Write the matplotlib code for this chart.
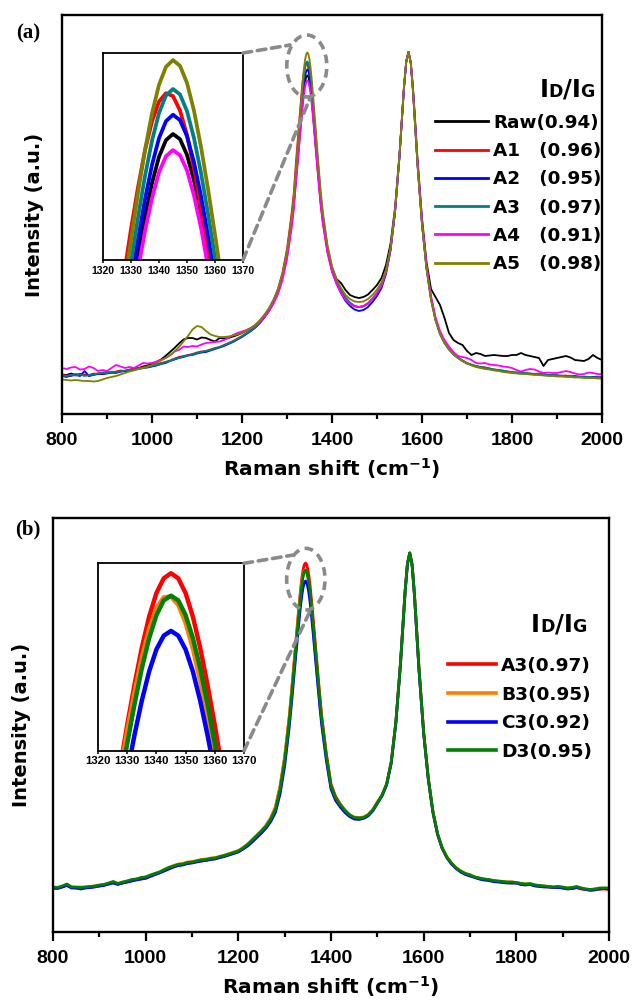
import numpy as np
import matplotlib
matplotlib.use("Agg")
import matplotlib.pyplot as plt
from matplotlib.patches import Ellipse, ConnectionPatch
from matplotlib.offsetbox import TextArea, HPacker, AnchoredOffsetbox
from matplotlib.ticker import MultipleLocator

# ---------------- data ----------------
RAMAN_SHIFT = (list(range(800, 1320, 10)) + [1315]
               + [1320 + 2.5 * i for i in range(21)] + [1375]
               + list(range(1380, 1560, 10)) + list(range(1555, 1590, 5))
               + list(range(1590, 2010, 10)))

# panel (a)
RAW = [39.5, 39, 40.5, 39, 40, 39, 38.5, 39.5, 40.5, 40,
       40.5, 41.5, 42, 42.5, 43, 44, 45.5, 46, 47.5, 48.5,
       50, 52, 54.5, 58, 62, 66, 70.5, 74.5, 76, 76,
       74.5, 76.5, 76, 74, 72.5, 76, 75.5, 76, 77.5, 79,
       81, 83.5, 86, 89, 93, 98.5, 104.5, 112.5, 123, 138,
       160, 190.5,
       210,
       234.2, 246.8, 260.2, 273.8, 287.5, 300.7, 312.9, 323.3, 331.5, 336.7, 338.6,
       337, 332.1, 324.1, 313.9, 301.9, 288.9, 275.4, 262, 248.8, 236.4,
       212,
       193, 165, 146, 135, 131, 124, 119, 117, 116, 117, 119.5, 124, 129, 136, 149, 170, 206, 260,
       293, 327, 352.5, 362, 352, 326, 292,
       255, 196, 152, 125, 117, 109, 96, 81, 74, 71,
       69, 63, 59, 61, 60, 58, 58.5, 59, 58.5, 58,
       58, 59, 59, 61, 59, 58, 57, 56, 48, 54,
       55, 56, 57, 58, 56.5, 54, 53.5, 53, 55, 59,
       56, 54]

A1 = [39, 38.5, 38, 40, 39, 39.5, 39, 40.5, 40, 41.5,
      42, 41.5, 42.5, 43.5, 43, 44.5, 45, 46, 46.5, 47.5,
      48, 49.5, 51, 52, 53.5, 55.5, 57, 58, 59, 60,
      61.5, 62.5, 63, 64.5, 66, 67, 69, 71, 73, 75.5,
      78, 81, 84, 88, 92.5, 98.5, 105, 113.5, 125, 141.5,
      165, 200,
      221,
      252.4, 266.2, 280.5, 294.9, 309, 322, 333.5, 342.5, 348.7, 351.3, 350.4,
      345.9, 338.3, 327.9, 315.6, 302, 287.9, 273.7, 259.9, 246.6, 234.2,
      209,
      190, 162, 143, 131, 122, 115, 111, 108, 107, 108, 111, 115.5, 121, 129, 142, 165, 202, 258,
      292, 327, 352.5, 362, 351, 323, 287,
      250, 190, 146, 116, 95, 81, 72, 65, 60, 56.5,
      53.5, 51, 49, 48, 47, 46.5, 45.5, 44.5, 44, 43,
      42.5, 41.5, 41.5, 41, 40.5, 40.5, 40, 39.5, 39.5, 39,
      39, 38.5, 38, 38.5, 37.5, 37.5, 37, 37.5, 36.5, 36.5,
      37, 36.5]

A2 = [38, 37, 38.5, 39, 38, 43, 38, 39, 40, 40.5,
      41, 41.5, 41, 42.5, 43, 43.5, 44.5, 45, 46, 46.5,
      47.5, 48.5, 50, 51, 53, 54.5, 56, 57, 58.5, 59,
      60.5, 61.5, 62, 63.5, 65, 66.5, 68, 70, 72, 74.5,
      77, 80, 83, 86.5, 91, 96.5, 103, 111, 121.5, 136.5,
      158, 189,
      209,
      237.8, 250.7, 264.3, 278.3, 292.3, 305.8, 318.3, 329, 337.3, 342.6, 344.6,
      342.9, 337.9, 329.8, 319.3, 307, 293.7, 279.9, 266.1, 252.7, 240,
      214,
      194, 164, 144, 131, 121, 113, 108, 104.5, 103, 104, 107, 112, 118, 126, 140, 163, 201, 257,
      291, 326, 352, 362, 351, 323, 287,
      250, 190, 146, 115, 94, 80, 71, 64.5, 59.5, 56,
      53, 50.5, 49, 47.5, 46.5, 46, 45, 44, 43.5, 43,
      42, 41.5, 41, 41.5, 40.5, 40, 40, 39.5, 40, 39,
      38.5, 38.5, 38, 38, 37.5, 38, 37, 37, 36.5, 37,
      36.5, 36.5]

A3 = [38.5, 38, 39, 38.5, 39.5, 38, 39, 39.5, 40.5, 41,
      41, 42, 42, 42.5, 43.5, 44, 44.5, 45.5, 46, 47,
      48, 49, 50, 52, 53, 55, 56, 57.5, 58.5, 59.5,
      61, 62, 63, 64, 65.5, 67, 68.5, 70.5, 72.5, 75,
      77.5, 80.5, 83.5, 87, 91.5, 97, 103.5, 112, 123, 138.5,
      160.5, 192.5,
      213,
      242.5, 255.8, 269.9, 284.2, 298.7, 312.6, 325.5, 336.5, 345.1, 350.6, 352.6,
      350.9, 345.7, 337.3, 326.5, 313.8, 300.1, 285.8, 271.7, 257.8, 244.7,
      218,
      197.5, 166.5, 146, 133, 124, 116.5, 111.5, 108, 107, 107.5, 110, 115, 121, 128.5, 142, 164.5, 202, 258,
      292, 327, 352.5, 362, 351.5, 324, 288,
      251, 191, 147, 116, 95, 80.5, 71.5, 65, 60, 56.5,
      53.5, 51, 49.5, 48, 47, 46.5, 45.5, 44.5, 44, 43.5,
      42.5, 42, 41.5, 41.5, 41, 40.5, 40, 40.5, 39.5, 39,
      39, 38.5, 38.5, 38, 38, 37.5, 37.5, 37, 37, 36.5,
      36.5, 37]

A4 = [46, 45, 46.5, 47, 44.5, 45, 47.5, 46, 43, 44,
      43, 46, 49, 47.5, 46, 47, 46, 48.5, 51, 50.5,
      51, 52.5, 54, 56, 58.5, 62.5, 64, 67.5, 67, 68,
      67.5, 69.5, 71, 71.5, 72, 72.5, 74, 76, 79, 81,
      82.5, 84, 86, 88.5, 92, 97, 103, 110.5, 120, 134,
      154.5, 184.5,
      203.5,
      231.3, 243.6, 256.7, 270, 283.5, 296.4, 308.4, 318.6, 326.7, 331.7, 333.6,
      332, 327.3, 319.4, 309.4, 297.4, 284.6, 271.3, 258.2, 245.1, 233.1,
      208.5,
      189.5, 161, 142, 130, 121, 114, 110, 107.5, 107, 108, 110.5, 115, 121, 128.5, 142, 165, 203, 258,
      292, 327, 352.5, 362, 351.5, 324, 289,
      253, 193, 149, 118, 97, 83, 74, 67.5, 62, 58,
      57, 56, 54, 51, 50.5, 51, 49.5, 49, 48.5, 47.5,
      47, 46, 44, 42.5, 44, 45, 44.5, 42.5, 41, 41.5,
      41, 41, 42, 43, 42, 40.5, 39.5, 40, 41.5, 41,
      40, 39.5]

A5 = [34.5, 34, 33.5, 34, 33.5, 33, 33, 32.5, 33, 34.5,
      36, 37, 38, 39.5, 41, 42.5, 43.5, 45, 46, 47.5,
      49, 51, 53.5, 56, 59, 62.5, 67, 72.5, 78, 84.5,
      88, 87, 83, 79.5, 78, 77, 77, 77.5, 78.5, 79.5,
      81, 83.5, 86, 89.5, 94, 99.5, 106, 114.5, 125, 140.5,
      163, 196,
      217.5,
      247.8, 261.6, 276.1, 290.9, 305.9, 320.3, 333.6, 345, 353.9, 359.5, 361.6,
      359.8, 354.5, 345.8, 334.6, 321.5, 307.3, 292.5, 277.9, 263.6, 250,
      222.5,
      201, 169, 148, 135, 126, 119, 115, 112.5, 112, 112.5, 115, 119, 124.5, 131.5, 144, 166, 203, 259,
      293, 328, 353, 362, 351, 322.5, 286,
      249, 189, 145, 114, 93.5, 80, 71, 64.5, 59.5, 56,
      53, 50.5, 48.5, 47, 46, 45, 44.5, 43.5, 43, 42,
      41.5, 41, 40.5, 40, 40, 39.5, 39, 39, 38.5, 38,
      38, 37.5, 37.5, 37, 37, 36.5, 36.5, 36, 36, 36,
      35.5, 35.5]

LABELS_A = ["Raw(0.94)", "A1   (0.96)", "A2   (0.95)", "A3   (0.97)", "A4   (0.91)", "A5   (0.98)"]
COLORS_A = ["#000000", "#ff0000", "#0000ff", "#008080", "#ff00ff", "#808000"]

# panel (b)
B_A3 = [43.5, 44, 45, 47, 44.5, 44, 43.5, 44.5, 44.5, 45.5,
        46, 47, 48, 49.5, 48, 49, 50, 51.5, 52.5, 53,
        53.5, 56, 57.5, 59.5, 61.5, 63.5, 65, 66.5, 67.5, 68.5,
        69.5, 70.5, 71, 72, 72.5, 73.5, 74.5, 76, 77.5, 79,
        80.5, 83, 86.5, 91, 96, 101, 106.5, 114, 124.5, 145,
        174.5, 215.5,
        241,
        268, 281.1, 294.6, 308.2, 321.6, 334.2, 345.7, 355.4, 362.8, 367.4, 369,
        367.4, 362.8, 355.4, 345.7, 334.2, 321.6, 308.2, 294.6, 281.1, 268,
        241,
        216, 178.5, 148, 135.5, 128, 122, 117.5, 114.5, 114, 114.5, 117, 121.5, 130, 136.5, 147.5, 169.5, 210, 269.5,
        305.5, 341, 368.5, 379, 367.5, 338.5, 301,
        263, 200, 154, 120.5, 98, 83.5, 74.5, 68.5, 63.5, 60.5,
        58, 56.5, 55, 53.5, 52.5, 52, 51, 50.5, 50, 49.5,
        49, 49, 48, 47.5, 47.5, 46.5, 46, 45.5, 45, 44.5,
        45, 44, 43.5, 43.5, 44.5, 43, 42.5, 41.5, 42, 43,
        43, 42.5]

B_B3 = [44.5, 44.5, 45.5, 47.5, 45, 44.5, 45, 45, 45.5, 46,
        46.5, 47.5, 48.5, 50, 48.5, 49.5, 51, 52, 53, 54,
        55, 56.5, 58.5, 60, 62, 64.5, 66.5, 68, 68.5, 70,
        70.5, 71.5, 72.5, 73, 74, 74.5, 75.5, 77, 78.5, 80,
        81.5, 84.5, 88, 92.5, 97, 101.5, 107, 114.5, 125, 146,
        176, 216,
        241,
        267.3, 280.2, 293.5, 306.7, 319.7, 331.8, 342.7, 351.6, 358.1, 361.5, 361.7,
        359.1, 353.5, 345.4, 335.3, 323.5, 310.7, 297.3, 284, 270.6, 257.6,
        233,
        210, 174, 145, 133.5, 127, 121.5, 117, 115, 114.5, 115, 117.5, 122.5, 129.5, 137, 148, 170, 209.5, 268.5,
        304.5, 340.5, 368, 379, 368, 338.5, 301,
        262.5, 199.5, 153.5, 120.5, 98.5, 84.5, 75.5, 69, 64.5, 61,
        58.5, 57.5, 55, 54, 53, 52.5, 51.5, 51, 50.5, 50,
        50, 49.5, 48.5, 48, 48, 47, 46.5, 46, 45.5, 45,
        45.5, 44.5, 44, 44.5, 45, 44, 43, 42.5, 43, 43.5,
        44, 43.5]

B_C3 = [44, 43.5, 45, 46.5, 44, 44, 43, 44, 44.5, 45,
        46, 46.5, 48, 49, 47.5, 49, 50, 51, 52, 53,
        54, 55.5, 57.5, 59, 61, 63, 65, 66.5, 67, 68.5,
        69, 70, 71, 71.5, 72.5, 73, 74.5, 75.5, 77, 78.5,
        80, 83, 86, 90, 94.5, 99, 104, 110.5, 119.5, 138,
        166, 205.5,
        230,
        256.6, 268.8, 281.4, 294.1, 306.6, 318.5, 329.2, 338.3, 345.2, 349.5, 351,
        349.5, 345.2, 338.3, 329.2, 318.5, 306.6, 294.1, 281.4, 268.8, 256.6,
        230,
        207, 171.5, 143, 131.5, 125, 119.5, 115.5, 113, 112.5, 113.5, 116, 121, 128.5, 136, 147, 169, 209, 268,
        304.5, 340.5, 368, 379, 367, 337.5, 300,
        261.5, 198.5, 152.5, 119.5, 97.5, 83.5, 74.5, 68, 63.5, 60,
        57.5, 56, 54.5, 53, 52, 51.5, 50.5, 50, 49.5, 49,
        49, 49, 47.5, 47, 47.5, 46, 45.5, 45, 45, 44.5,
        44.5, 44, 43, 43.5, 44.5, 43.5, 42.5, 42, 42.5, 43,
        43.5, 43]

B_D3 = [45, 44.5, 46, 48, 45, 45, 44.5, 45, 45.5, 46,
        47, 47.5, 49, 50.5, 48.5, 50, 51, 52.5, 53, 54.5,
        55, 57, 58.5, 60, 62.5, 64.5, 66, 67.5, 68, 69.5,
        70, 71, 72, 72.5, 73.5, 74, 75.5, 76.5, 78, 79.5,
        81, 84, 87.5, 92, 96.5, 101, 106, 113, 123, 143,
        172, 212,
        237,
        263.5, 276.3, 289.5, 302.7, 315.8, 328.1, 339.3, 348.7, 355.9, 360.5, 362,
        360.5, 355.9, 348.7, 339.3, 328.1, 315.8, 302.7, 289.5, 276.3, 263.5,
        237,
        213, 176, 146, 134, 127, 121.5, 117, 114.5, 114, 114.5, 117, 122, 129, 137, 148, 170, 210, 269,
        305, 341, 368.5, 379, 367.5, 338, 300.5,
        262, 199, 153, 120, 98, 84, 75, 69, 64, 61,
        58.5, 57, 55, 54, 53, 52.5, 51.5, 51, 50.5, 50,
        50, 49.5, 48.5, 48, 48.5, 47, 46.5, 46, 45.5, 45,
        45.5, 45, 44, 44.5, 45.5, 44, 43, 42.5, 43, 44,
        44, 44]

LABELS_B = ["A3(0.97)", "B3(0.95)", "C3(0.92)", "D3(0.95)"]
COLORS_B = ["#ff0000", "#ff8000", "#0000ff", "#008000"]

XTICKS = [800, 1000, 1200, 1400, 1600, 1800, 2000]
INSET_TICKS = [1320, 1330, 1340, 1350, 1360, 1370]

SERIES_A = [RAW, A1, A2, A3, A4, A5]
SERIES_B = [B_A3, B_B3, B_C3, B_D3]

# ---------------- styling ----------------
SANS = "DejaVu Sans"
TICKFONT = "Liberation Sans"
GRAY = "#8a8a8a"
W, H = 632, 1005

fig = plt.figure(figsize=(W / 100, H / 100), dpi=100)


def fx(px):
    return px / W


def fy(py):
    return 1 - py / H


def style_main(ax, ymax):
    ax.set_xlim(800, 2000)
    ax.set_ylim(0, ymax)
    ax.set_xticks(XTICKS)
    ax.xaxis.set_minor_locator(MultipleLocator(100))
    ax.set_yticks([])
    ax.tick_params(axis="x", which="major", direction="out", length=6.5, width=1.6, pad=6.5)
    ax.tick_params(axis="x", which="minor", direction="out", length=3.5, width=1.6)
    for lbl in ax.get_xticklabels():
        lbl.set_fontfamily(TICKFONT)
        lbl.set_fontweight("bold")
        lbl.set_fontsize(14)
    for s in ax.spines.values():
        s.set_linewidth(1.7)
    ax.set_xlabel("Raman shift (cm$^{\\mathbf{-1}}$)", fontsize=14.5, fontweight="bold",
                  family=SANS, labelpad=5)


def style_inset(ax, ylo, yhi, fs):
    ax.set_xlim(1320, 1370)
    ax.set_ylim(ylo, yhi)
    ax.set_xticks(INSET_TICKS)
    ax.set_yticks([])
    ax.tick_params(axis="x", direction="out", length=2.5, width=1.1, pad=1.5)
    for lbl in ax.get_xticklabels():
        lbl.set_fontfamily(TICKFONT)
        lbl.set_fontweight("bold")
        lbl.set_fontsize(fs)
    for s in ax.spines.values():
        s.set_linewidth(1.3)


def idig(ax, x, y):
    big = dict(fontsize=17.5, fontweight="bold", family=SANS, color="black")
    small = dict(fontsize=12.5, fontweight="bold", family=SANS, color="black")
    box = HPacker(children=[TextArea("I", textprops=big), TextArea("D", textprops=small),
                            TextArea("/I", textprops=big), TextArea("G", textprops=small)],
                  align="baseline", pad=0, sep=0)
    anch = AnchoredOffsetbox(loc="lower right", child=box, pad=0, borderpad=0, frameon=False,
                             bbox_to_anchor=(x, y), bbox_transform=ax.transAxes)
    ax.add_artist(anch)


def dashed_zoom(fig, ax, axins, ell_c, ell_w, ell_h, p_top, p_bot):
    ls = (0, (2.4, 1.6))
    e = Ellipse(ell_c, ell_w, ell_h, fill=False, edgecolor=GRAY, lw=2.6, linestyle=ls,
                zorder=6, clip_on=False)
    ax.add_patch(e)
    for a_pt, b_pt in (((1, 1), p_top), ((1, 0), p_bot)):
        cp = ConnectionPatch(xyA=a_pt, coordsA=axins.transAxes, xyB=b_pt, coordsB=ax.transData,
                             color=GRAY, lw=2.6, linestyle=ls, zorder=7)
        fig.add_artist(cp)


# ---------------- panel (a) ----------------
ax_a = fig.add_axes([fx(62), fy(414), fx(540), 399 / H])
for ys, c, lab in zip(SERIES_A, COLORS_A, LABELS_A):
    ax_a.plot(RAMAN_SHIFT, ys, color=c, lw=1.3, label=lab)
style_main(ax_a, 399)
ax_a.set_ylabel("Intensity (a.u.)", fontsize=14, fontweight="bold", family=SANS, labelpad=13)
ax_a.legend(handles=[plt.Line2D([], [], color=c, lw=2.0) for c in COLORS_A],
            labels=LABELS_A, loc="upper left", bbox_to_anchor=(0.6907, 0.7526),
            frameon=False, borderpad=0, borderaxespad=0, handlelength=2.9,
            handletextpad=0.27, labelspacing=0.56,
            prop=dict(family=SANS, weight="bold", size=13.2))
idig(ax_a, 0.987, 0.782)

ins_a = fig.add_axes([fx(103), fy(260), fx(140), 207 / H])
for ys, c in zip(SERIES_A, COLORS_A):
    ins_a.plot(RAMAN_SHIFT, ys, color=c, lw=2.7)
style_inset(ins_a, 299.4, 363.8, 7.5)
dashed_zoom(fig, ax_a, ins_a, (1344, 348), 89, 62, (1306.7, 369), (1351, 315.7))

fig.text(fx(28), fy(33), "(a)", ha="center", va="center", fontsize=15, fontweight="bold",
         family="Liberation Serif")

# ---------------- panel (b) ----------------
ax_b = fig.add_axes([fx(53), fy(932), fx(556), 414 / H])
for ys, c, lab in zip(SERIES_B, COLORS_B, LABELS_B):
    ax_b.plot(RAMAN_SHIFT, ys, color=c, lw=2.0, label=lab)
style_main(ax_b, 414)
ax_b.set_ylabel("Intensity (a.u.)", fontsize=14, fontweight="bold", family=SANS, labelpad=16)
ax_b.legend(handles=[plt.Line2D([], [], color=c, lw=2.6) for c in COLORS_B],
            labels=LABELS_B, loc="upper left", bbox_to_anchor=(0.711, 0.6647),
            frameon=False, borderpad=0, borderaxespad=0, handlelength=2.6,
            handletextpad=0.27, labelspacing=0.58,
            prop=dict(family=SANS, weight="bold", size=13.3))
idig(ax_b, 0.960, 0.7126)

ins_b = fig.add_axes([fx(98), fy(750.7), fx(146), 187.4 / H])
for ys, c in zip(SERIES_B, COLORS_B):
    ins_b.plot(RAMAN_SHIFT, ys, color=c, lw=3.2)
style_inset(ins_b, 313.6, 372.1, 8.2)
dashed_zoom(fig, ax_b, ins_b, (1345.7, 352.8), 82.7, 61.7, (1318.7, 377), (1355.8, 322))

fig.text(fx(28), fy(529), "(b)", ha="center", va="center", fontsize=15, fontweight="bold",
         family="Liberation Serif")

fig.savefig("out.png", dpi=100)
